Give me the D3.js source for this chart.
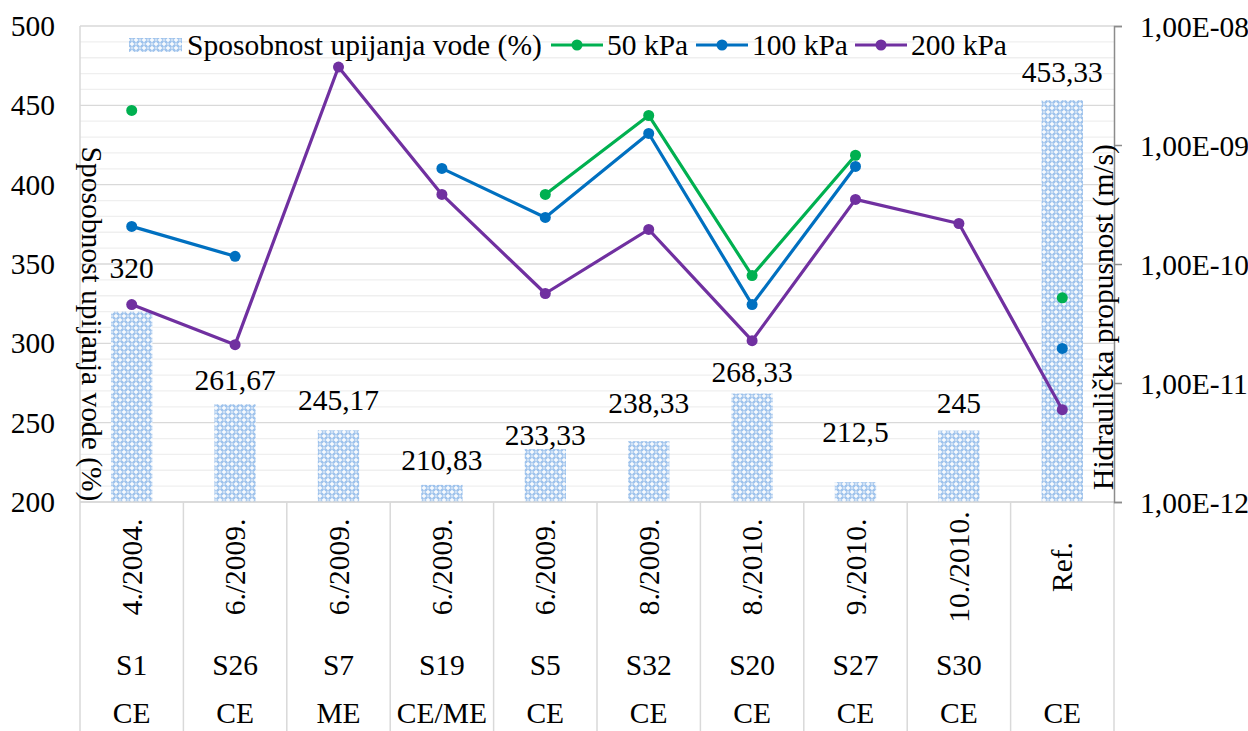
<!DOCTYPE html>
<html>
<head>
<meta charset="utf-8">
<script src="https://cdn.jsdelivr.net/npm/d3@7/dist/d3.min.js"></script>
<style>
  html, body { margin: 0; padding: 0; background: #ffffff; }
  svg { display: block; }
  text { font-family: "Liberation Serif", "Times New Roman", serif; fill: #000; }
</style>
</head>
<body>
<svg id="chart" width="1248" height="731"></svg>
<script>
// Sample identifiers, dates and binder types (three-level category axis)
const dates   = ["4./2004.", "6./2009.", "6./2009.", "6./2009.", "6./2009.", "8./2009.", "8./2010.", "9./2010.", "10./2010.", "Ref."];
const samples = ["S1", "S26", "S7", "S19", "S5", "S32", "S20", "S27", "S30", ""];
const types   = ["CE", "CE", "ME", "CE/ME", "CE", "CE", "CE", "CE", "CE", "CE"];

// Water absorption capacity (%), left axis
const absorption = [320, 261.67, 245.17, 210.83, 233.33, 238.33, 268.33, 212.5, 245, 453.33];
const absorptionLabels = ["320", "261,67", "245,17", "210,83", "233,33", "238,33", "268,33", "212,5", "245", "453,33"];

// Hydraulic conductivity (m/s), right log axis
const k50  = [1.95e-9, null, null, null, 3.84e-10, 1.77e-9, 8.0e-11, 8.2e-10, null, 5.2e-11];
const k100 = [2.07e-10, 1.16e-10, null, 6.36e-10, 2.46e-10, 1.25e-9, 4.56e-11, 6.6e-10, null, 1.95e-11];
const k200 = [4.56e-11, 2.1e-11, 4.52e-9, 3.84e-10, 5.65e-11, 1.95e-10, 2.27e-11, 3.49e-10, 2.19e-10, 5.97e-12];

const leftTicks  = [200, 250, 300, 350, 400, 450, 500];
const rightTicks = [1e-12, 1e-11, 1e-10, 1e-9, 1e-8];
const rightTickLabels = ["1,00E-12", "1,00E-11", "1,00E-10", "1,00E-09", "1,00E-08"];

const seriesNames = ["Sposobnost upijanja vode (%)", "50 kPa", "100 kPa", "200 kPa"];
const leftTitle  = "Sposobnost upijanja vode (%)";
const rightTitle = "Hidraulička propusnost (m/s)";

// ---- layout ----
const plot = { left: 80, right: 1114, top: 26, bottom: 502 };
const colors = { k50: "#00b050", k100: "#0070c0", k200: "#7030a0", grid: "#d9d9d9", minor: "#efefef" };
// vertical offsets (px) of the value labels above the bar tops
const labelLift = [44, 24, 30, 25, 14, 38, 22, 50, 28, 28];
const FS = 29.5;

const svg = d3.select("#chart");
const idx = d3.range(dates.length);

const x = d3.scaleBand().domain(idx).range([plot.left, plot.right]).paddingInner(0).paddingOuter(0);
const yL = d3.scaleLinear().domain([200, 500]).range([plot.bottom, plot.top]);
const yR = d3.scaleLog().domain([1e-12, 1e-8]).range([plot.bottom, plot.top]);

// bar fill pattern
const defs = svg.append("defs");
const pat = defs.append("pattern").attr("id", "lattice")
  .attr("patternUnits", "userSpaceOnUse").attr("width", 8).attr("height", 8);
pat.append("rect").attr("width", 8).attr("height", 8).attr("fill", "#9fc3ec");
[[0,0],[8,0],[0,8],[8,8],[4,4]].forEach(([cx, cy]) => {
  pat.append("path")
    .attr("d", `M${cx-2.2},${cy}L${cx+2.2},${cy}M${cx},${cy-2.2}L${cx},${cy+2.2}`)
    .attr("stroke", "#ffffff").attr("stroke-width", 1.4);
});
[[4,0],[0,4],[8,4],[4,8]].forEach(([cx, cy]) => {
  pat.append("circle").attr("cx", cx).attr("cy", cy).attr("r", 0.9).attr("fill", "#e6f0fb");
});

// minor + major gridlines (left axis)
const minorVals = d3.range(210, 500, 10).filter(v => v % 50 !== 0);
svg.append("g").selectAll("line").data(minorVals).join("line")
  .attr("x1", plot.left).attr("x2", plot.right)
  .attr("y1", d => yL(d)).attr("y2", d => yL(d))
  .attr("stroke", colors.minor).attr("stroke-width", 1.3);
svg.append("g").selectAll("line").data(leftTicks).join("line")
  .attr("x1", plot.left).attr("x2", plot.right)
  .attr("y1", d => yL(d)).attr("y2", d => yL(d))
  .attr("stroke", colors.grid).attr("stroke-width", 1.3);

// bars
const barW = x.bandwidth() * 0.4;
svg.append("g").selectAll("rect").data(idx).join("rect")
  .attr("x", i => x(i) + (x.bandwidth() - barW) / 2)
  .attr("width", barW)
  .attr("y", i => yL(absorption[i]))
  .attr("height", i => yL(200) - yL(absorption[i]))
  .attr("fill", "url(#lattice)");

// bar value labels
svg.append("g").selectAll("text").data(idx).join("text")
  .attr("x", i => x(i) + x.bandwidth() / 2)
  .attr("y", i => yL(absorption[i]) - labelLift[i])
  .attr("text-anchor", "middle").attr("dominant-baseline", "central")
  .attr("font-size", FS)
  .text(i => absorptionLabels[i]);

// category axis: frame and dividers
svg.append("line").attr("x1", plot.left).attr("x2", plot.right)
  .attr("y1", plot.bottom).attr("y2", plot.bottom)
  .attr("stroke", colors.grid).attr("stroke-width", 1.5);
svg.append("line").attr("x1", plot.left).attr("x2", plot.left)
  .attr("y1", plot.top).attr("y2", 731)
  .attr("stroke", colors.grid).attr("stroke-width", 1.5);
svg.append("g").selectAll("line").data(d3.range(1, dates.length + 1)).join("line")
  .attr("x1", i => plot.left + i * x.bandwidth()).attr("x2", i => plot.left + i * x.bandwidth())
  .attr("y1", plot.bottom).attr("y2", 731)
  .attr("stroke", colors.grid).attr("stroke-width", 1.5);

// category labels
const cx = i => x(i) + x.bandwidth() / 2;
svg.append("g").selectAll("text").data(idx).join("text")
  .attr("transform", i => `translate(${cx(i)},567) rotate(-90)`)
  .attr("text-anchor", "middle").attr("dominant-baseline", "central")
  .attr("font-size", FS).text(i => dates[i]);
svg.append("g").selectAll("text").data(idx).join("text")
  .attr("x", cx).attr("y", 665)
  .attr("text-anchor", "middle").attr("dominant-baseline", "central")
  .attr("font-size", FS).text(i => samples[i]);
svg.append("g").selectAll("text").data(idx).join("text")
  .attr("x", cx).attr("y", 713)
  .attr("text-anchor", "middle").attr("dominant-baseline", "central")
  .attr("font-size", FS).text(i => types[i]);

// left axis labels
svg.append("g").selectAll("text").data(leftTicks).join("text")
  .attr("x", 55).attr("y", d => yL(d))
  .attr("text-anchor", "end").attr("dominant-baseline", "central")
  .attr("font-size", FS).text(d => d);

// right axis
const gR = svg.append("g").attr("transform", `translate(${plot.right},0)`)
  .call(d3.axisRight(yR).tickValues(rightTicks).tickSize(8).tickFormat((d, i) => rightTickLabels[i]));
gR.select(".domain").attr("stroke", "#8c8c8c").attr("stroke-width", 1.5);
gR.selectAll(".tick line").attr("stroke", "#8c8c8c").attr("stroke-width", 1.5);
gR.selectAll(".tick text").attr("x", 26).attr("dy", null).attr("dominant-baseline", "central")
  .attr("font-size", FS).attr("font-family", "Liberation Serif, serif").attr("fill", "#000");

// axis titles
svg.append("text")
  .attr("transform", `translate(92,324) rotate(90)`)
  .attr("text-anchor", "middle").attr("dominant-baseline", "central")
  .attr("font-size", FS).text(leftTitle);
svg.append("text")
  .attr("transform", `translate(1103,317) rotate(-90)`)
  .attr("text-anchor", "middle").attr("dominant-baseline", "central")
  .attr("font-size", FS).text(rightTitle);

// conductivity series
const series = [
  { vals: k50,  color: colors.k50 },
  { vals: k100, color: colors.k100 },
  { vals: k200, color: colors.k200 }
];
const line = d3.line()
  .defined(d => d.v != null)
  .x(d => cx(d.i)).y(d => yR(d.v));
series.forEach(s => {
  const pts = s.vals.map((v, i) => ({ v, i }));
  svg.append("path").datum(pts)
    .attr("d", line).attr("fill", "none")
    .attr("stroke", s.color).attr("stroke-width", 3.2).attr("stroke-linejoin", "round");
  svg.append("g").selectAll("circle").data(pts.filter(d => d.v != null)).join("circle")
    .attr("cx", d => cx(d.i)).attr("cy", d => yR(d.v)).attr("r", 5.5)
    .attr("fill", s.color);
});

// legend
const lg = svg.append("g");
const legY = 45;
lg.append("rect").attr("x", 129).attr("y", legY - 7).attr("width", 53).attr("height", 14)
  .attr("fill", "url(#lattice)");
lg.append("text").attr("x", 187).attr("y", legY).attr("dominant-baseline", "central")
  .attr("font-size", FS).text(seriesNames[0]);
const lineItems = [
  { x0: 551, color: colors.k50,  name: seriesNames[1] },
  { x0: 696, color: colors.k100, name: seriesNames[2] },
  { x0: 855, color: colors.k200, name: seriesNames[3] }
];
lineItems.forEach(it => {
  lg.append("line").attr("x1", it.x0).attr("x2", it.x0 + 52)
    .attr("y1", legY).attr("y2", legY).attr("stroke", it.color).attr("stroke-width", 3.2);
  lg.append("circle").attr("cx", it.x0 + 26).attr("cy", legY).attr("r", 5.5).attr("fill", it.color);
  lg.append("text").attr("x", it.x0 + 56).attr("y", legY).attr("dominant-baseline", "central")
    .attr("font-size", FS).text(it.name);
});
</script>
</body>
</html>
